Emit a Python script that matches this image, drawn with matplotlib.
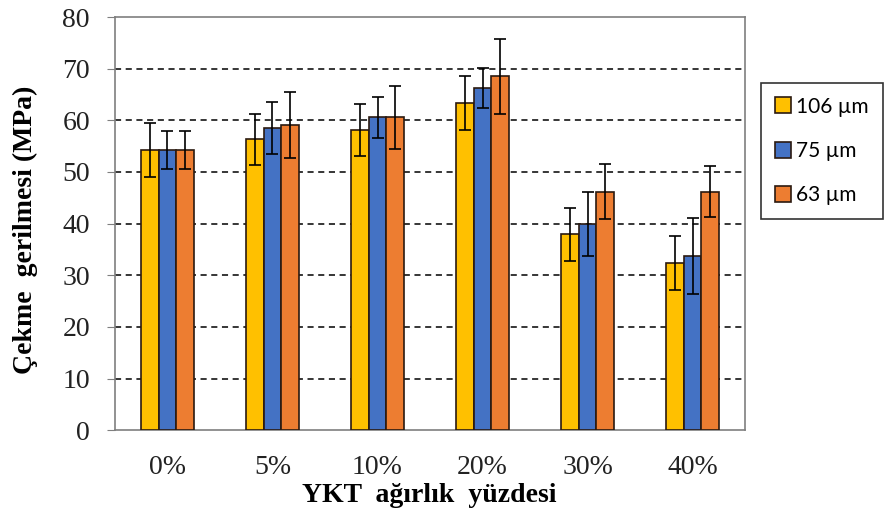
import numpy as np
import matplotlib
matplotlib.use("Agg")
import matplotlib.pyplot as plt

# ---------------------------------------------------------------------------
# Data
# ---------------------------------------------------------------------------
categories = ["0%", "5%", "10%", "20%", "30%", "40%"]
series_labels = ["106 \u00b5m", "75 \u00b5m", "63 \u00b5m"]
vals_106 = [54.3, 56.3, 58.1, 63.3, 37.9, 32.4]
vals_75 = [54.3, 58.5, 60.6, 66.3, 40.0, 33.7]
vals_63 = [54.3, 59.1, 60.6, 68.5, 46.2, 46.2]
err_106 = [5.2, 4.9, 5.1, 5.2, 5.2, 5.2]
err_75 = [3.7, 5.1, 4.0, 3.9, 6.2, 7.3]
err_63 = [3.7, 6.3, 6.1, 7.2, 5.4, 5.0]

colors = ["#FFC000", "#4472C4", "#ED7D31"]

# ---------------------------------------------------------------------------
# Figure
# ---------------------------------------------------------------------------
fig = plt.figure(figsize=(8.84, 5.17), dpi=100)
ax = fig.add_axes([0.130, 0.168, 0.713, 0.799])

x = np.arange(len(categories))
w = 0.167
for i, (vals, errs) in enumerate(zip([vals_106, vals_75, vals_63],
                                     [err_106, err_75, err_63])):
    ax.bar(x + (i - 1) * w, vals, w, color=colors[i], edgecolor="#2b1a10",
           linewidth=1.2, label=series_labels[i], zorder=3,
           yerr=errs, capsize=4,
           error_kw=dict(ecolor="black", elinewidth=1.2, capthick=1.2, zorder=4))

ax.set_xlim(-0.5, len(categories) - 0.5)
ax.set_ylim(0, 80)
ax.set_yticks(range(0, 81, 10))
ax.set_xticks(x)
ax.set_xticklabels(categories)

for v in range(10, 80, 10):
    ax.axhline(v, color="black", linestyle=(0, (4, 3)), linewidth=1.1, zorder=1)

for s in ax.spines.values():
    s.set_color("#7f7f7f")
    s.set_linewidth(1.2)

ax.tick_params(axis="y", direction="out", length=6, color="#7f7f7f",
               labelsize=20, pad=12)
ax.tick_params(axis="x", length=0, labelsize=20, pad=18)
for lab in ax.get_xticklabels() + ax.get_yticklabels():
    lab.set_family("Liberation Serif")
    lab.set_color("#222222")

fig.text(25 / 884, 1 - 230 / 517, "\u00c7ekme  gerilmesi (MPa)",
         family="Liberation Serif", fontweight="bold", fontsize=20,
         rotation=90, ha="center", va="center")
fig.text(429 / 884, 1 - 495 / 517, "YKT  a\u011f\u0131rl\u0131k  y\u00fczdesi",
         family="Liberation Serif", fontweight="bold", fontsize=20,
         ha="center", va="center")

leg = ax.legend(loc="upper left", bbox_to_anchor=(1.025, 0.840),
                frameon=True, fancybox=False, edgecolor="black",
                prop={"family": "Lato", "size": 15},
                handlelength=0.8, handleheight=0.8, handletextpad=0.25,
                labelspacing=1.16, borderpad=0.65, borderaxespad=0)
leg.get_frame().set_linewidth(1.2)

fig.savefig("out.png", dpi=100)
